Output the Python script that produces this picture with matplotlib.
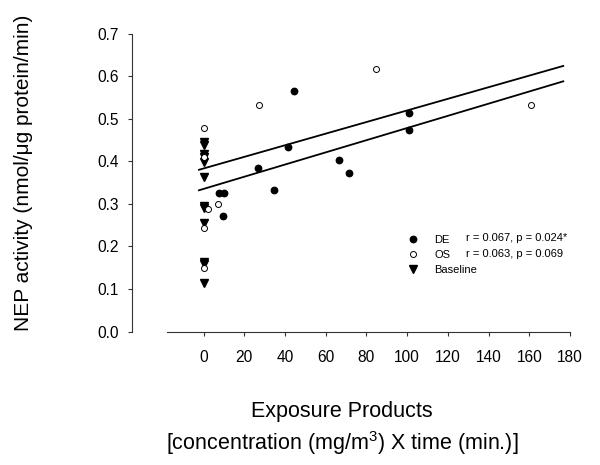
import matplotlib
matplotlib.use("Agg")
import matplotlib.pyplot as plt
import numpy as np
from matplotlib.lines import Line2D

plt.rcParams['font.family'] = ['Liberation Sans', 'DejaVu Sans']
plt.rcParams['mathtext.fontset'] = 'custom'
plt.rcParams['mathtext.rm'] = 'Liberation Sans'
plt.rcParams['mathtext.it'] = 'Liberation Sans'

# ---- data ----
de_x = [44.5, 100.7, 100.7, 41.6, 26.7, 34.6, 66.5, 71.6, 7.5, 10.0, 9.7]
de_y = [0.565, 0.514, 0.474, 0.433, 0.383, 0.332, 0.403, 0.373, 0.325, 0.325, 0.271]

os_x = [27.4, 84.7, 160.6, 0.0, 2.3, 7.2, 0.0, 0.0, 0.0]
os_y = [0.531, 0.616, 0.533, 0.478, 0.287, 0.300, 0.242, 0.149, 0.410]

base_y = [0.446, 0.438, 0.417, 0.409, 0.397, 0.364, 0.294, 0.290, 0.255, 0.164, 0.159, 0.113]
base_x = [0.0] * len(base_y)

# regression lines (intercept, slope)
line_upper = (0.383, 0.001363)
line_lower = (0.335, 0.00143)
line_xrange = (-2.3, 176.7)

legend_labels = ["DE", "OS", "Baseline"]
legend_stats = ["r = 0.067, p = 0.024*", "r = 0.063, p = 0.069", ""]

xticks = list(range(0, 181, 20))
yticks = [0.0, 0.1, 0.2, 0.3, 0.4, 0.5, 0.6, 0.7]

# ---- figure ----
fig = plt.figure(figsize=(6.0, 4.65), dpi=100)
ax = fig.add_axes([167/600, 1-331.5/465, (570-167)/600, (331.5-33.5)/465])

lx = np.array(line_xrange)
for b0, b1 in (line_upper, line_lower):
    ax.plot(lx, b0 + b1*lx, color='black', lw=1.3, zorder=2)

ax.plot(base_x, base_y, linestyle='none', marker='v', ms=5.2, color='black', zorder=3)
ax.plot(os_x, os_y, linestyle='none', marker='o', ms=4.3, mfc='white', mec='black', mew=0.7, zorder=4)
ax.plot(de_x, de_y, linestyle='none', marker='o', ms=4.6, color='black', zorder=5)

ax.set_xlim(-18, 180)
ax.set_ylim(0, 0.7)
ax.set_xticks(xticks)
ax.set_yticks(yticks)
ax.set_yticklabels([f"{v:.1f}" for v in yticks])
for s in ('top', 'right'):
    ax.spines[s].set_visible(False)
ax.spines['left'].set_position(('outward', 25))
for s in ('left', 'bottom'):
    ax.spines[s].set_linewidth(0.8)
    ax.spines[s].set_color('#333333')
ax.tick_params(axis='both', direction='out', length=3, width=0.8, colors='#333333',
               labelsize=11.2, labelcolor='black')
ax.tick_params(axis='x', pad=10)
ax.tick_params(axis='y', pad=7)

handles = [
    Line2D([], [], linestyle='none', marker='o', ms=4.6, color='black'),
    Line2D([], [], linestyle='none', marker='o', ms=4.3, mfc='white', mec='black', mew=0.7),
    Line2D([], [], linestyle='none', marker='v', ms=5.2, color='black'),
]
leg = ax.legend(handles, legend_labels, loc='upper left',
                bbox_to_anchor=(407.4/600, 1-235/465), bbox_transform=fig.transFigure,
                frameon=False, fontsize=8, handlelength=1.0, handletextpad=1.4,
                labelspacing=0.45, borderpad=0, borderaxespad=0)

row_y = [238.3, 254.0, 269.3]
for t, yy in zip(legend_stats, row_y):
    if t:
        fig.text(466/600, 1-yy/465, t, fontsize=8, va='center', ha='left')

fig.text(24/600, 1-173/465, "NEP activity (nmol/\u03bcg protein/min)", rotation=90,
         fontsize=15, ha='center', va='center')
fig.text(342/600, 1-411/465, "Exposure Products", fontsize=15.5, ha='center', va='center')
fig.text(342/600, 1-443/465, r"[concentration (mg/m$^3$) X time (min.)]", fontsize=15.5,
         ha='center', va='center')

fig.savefig("out.png", dpi=100)
